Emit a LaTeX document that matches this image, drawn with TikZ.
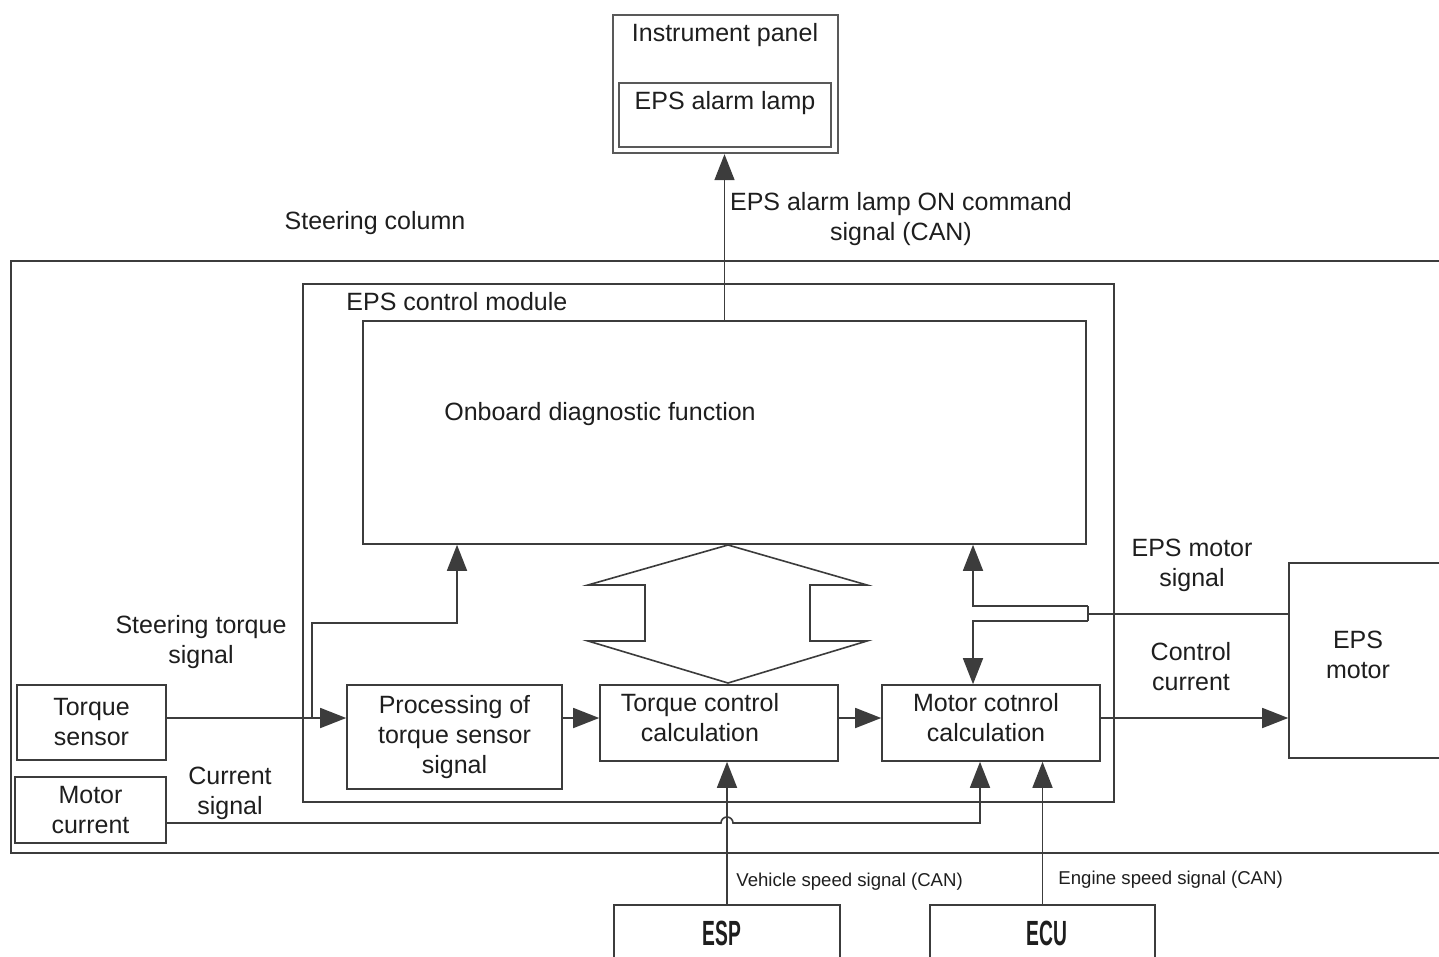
\documentclass[tikz,border=0pt]{standalone}
\usepackage{fontspec}
\setmainfont{Liberation Sans}
\usepackage{graphicx}
\usetikzlibrary{arrows.meta,positioning,calc}
\definecolor{Line}{HTML}{3C3C3C}
\definecolor{Ink}{HTML}{1E1E1E}
\tikzset{
  plainbox/.style={draw=Line,line width=0.8pt,fill=white,inner sep=0pt,align=center,
              font=\fontsize{12.5}{15}\selectfont,text=Ink},
  panelbox/.style={plainbox,line width=1.2pt,draw=Line!85},
  flow/.style={-{Triangle[length=13pt,width=10pt]},line width=0.8pt,draw=Line},
  wire/.style={line width=0.8pt,draw=Line},
  note/.style={font=\fontsize{12.5}{15}\selectfont,align=center,text=Ink,inner sep=0pt},
  smallnote/.style={font=\fontsize{9.3}{11}\selectfont,text=Ink,inner sep=0pt,anchor=west},
  tagnote/.style={font=\fontsize{17.5}{20}\selectfont\bfseries,text=Ink,inner sep=0pt}
}
\begin{document}
\begin{tikzpicture}[x=0.5pt,y=-0.5pt]
  \path[use as bounding box,clip] (0,0) rectangle (1439,957);
  \node[plainbox,minimum width=719.5pt,minimum height=296pt] (column) at (730.5,557) {};
  \node[note] (columntxt) at (375,223) {Steering column};
  \node[plainbox,minimum width=405.5pt,minimum height=259pt] (module) at (708.5,543) {};
  \node[note,anchor=west] (moduletxt) at (346,302) {EPS control module};
  \node[plainbox,minimum width=361.5pt,minimum height=111.5pt] (obd) at (724.5,432.5) {};
  \node[note] (obdtxt) at (600,414) {Onboard diagnostic function};
  \node[panelbox,minimum width=112.5pt,minimum height=69pt] (panel) at (725.5,84) {};
  \node[note] (paneltxt) at (725,35) {Instrument panel};
  \node[panelbox,minimum width=106pt,minimum height=32pt] (lamp) at (725,115) {};
  \node[note] (lamptxt) at (725,103) {EPS alarm lamp};
  \node[plainbox,minimum width=107.5pt,minimum height=52pt] (proc) at (454.5,737) {Processing of\\torque sensor\\signal};
  \node[plainbox,minimum width=119pt,minimum height=38pt] (tcc) at (719,723) {};
  \node[note] (tcctxt) at (700,718) {Torque control\\calculation};
  \node[plainbox,minimum width=109pt,minimum height=38pt] (mcc) at (991,723) {};
  \node[note] (mcctxt) at (986,718) {Motor cotnrol\\calculation};
  \node[plainbox,minimum width=74.5pt,minimum height=37.5pt] (tsens) at (91.5,722.5) {Torque\\sensor};
  \node[plainbox,minimum width=75.5pt,minimum height=33pt] (mcur) at (90.5,810) {Motor\\current};
  \node[plainbox,minimum width=80.5pt,minimum height=97.5pt] (motor) at (1369.5,660.5) {};
  \node[note] (motortxt) at (1358,655) {EPS\\motor};
  \node[plainbox,minimum width=113pt,minimum height=40pt] (esp) at (727,945) {};
  \node[tagnote] (esptxt) at (722,933) {\scalebox{0.55}[1]{ESP}};
  \node[plainbox,minimum width=112.5pt,minimum height=40pt] (ecu) at (1042.5,945) {};
  \node[tagnote] (ecutxt) at (1047,933) {\scalebox{0.55}[1]{ECU}};
  \coordinate (row) at (0,718);
  \coordinate (tap) at (312,718);
  \coordinate (bend) at (457,623);
  \coordinate (forkin) at (1088,614);
  \coordinate (forkup) at (1088,606);
  \coordinate (forkdn) at (1088,621);
  \coordinate (upleg) at (973,606);
  \coordinate (dnleg) at (973,621);
  \coordinate (cs) at (980,823);
  \draw[flow] (obd.north) -- (obd.north |- panel.south);
  \draw[flow] (tsens.east |- row) -- (proc.west |- row);
  \draw[flow] (tap) |- (bend) -- (bend |- obd.south);
  \draw[flow] (proc.east |- row) -- (tcc.west |- row);
  \draw[flow] (tcc.east |- row) -- (mcc.west |- row);
  \draw[flow] (mcc.east |- row) -- (motor.west |- row);
  \draw[wire,fill=white] (728,545) -- (588,585) -- (645,585) -- (645,641) -- (588,641) -- (728,683)
    -- (867,641) -- (810,641) -- (810,585) -- (867,585) -- cycle;
  \draw[wire] (motor.west |- forkin) -- (forkin);
  \draw[wire] (forkup) -- (forkdn);
  \draw[flow] (forkup) -- (upleg) -- (upleg |- obd.south);
  \draw[flow] (forkdn) -- (dnleg) -- (dnleg |- mcc.north);
  \draw[flow] ([yshift=-6.5pt]mcur.east) -- ([xshift=-3pt]esp.north |- cs)
    arc[start angle=180,end angle=0,radius=3pt] -- (cs) -- (cs |- mcc.south);
  \draw[flow] (esp.north) -- (esp.north |- tcc.south);
  \draw[flow] (ecu.north) -- (ecu.north |- mcc.south);
  \node[note] (alarmtxt) at (901,219) {EPS alarm lamp ON command\\signal (CAN)};
  \node[note] (torquetxt) at (201,642) {Steering torque\\signal};
  \node[note] (currenttxt) at (230,793) {Current\\signal};
  \node[note] (motorsigtxt) at (1192,565) {EPS motor\\signal};
  \node[note] (controltxt) at (1191,667) {Control\\current};
  \node[smallnote] (speedtxt) at (736,882) {Vehicle speed signal (CAN)};
  \node[smallnote] (enginetxt) at (1058,880) {Engine speed signal (CAN)};
\end{tikzpicture}
\end{document}
